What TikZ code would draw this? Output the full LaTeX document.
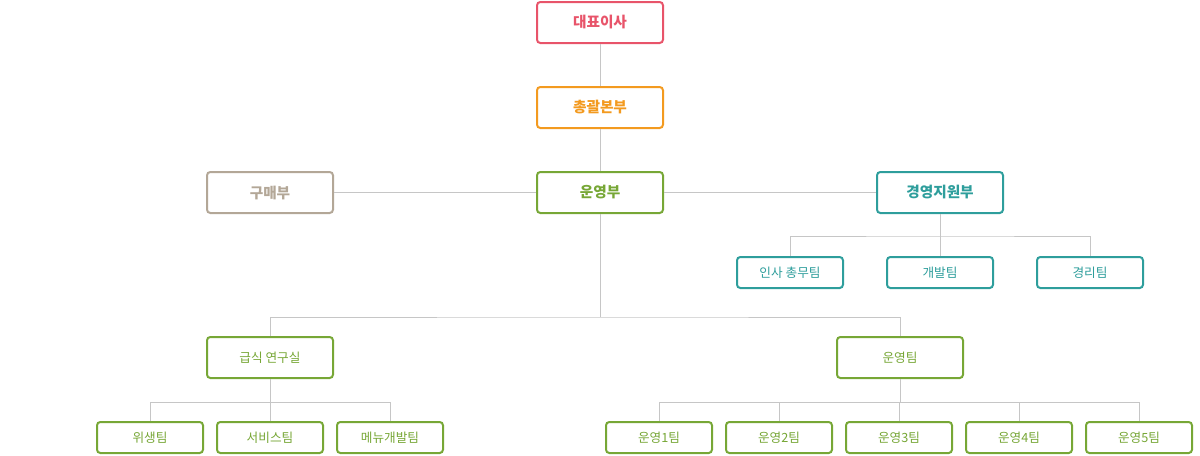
\documentclass[tikz,border=0pt]{standalone}
\usepackage{fontspec}
\setmainfont{Noto Sans CJK KR}
\definecolor{ceored}{HTML}{E8546A}
\definecolor{hqorange}{HTML}{F39A1F}
\definecolor{opsgreen}{HTML}{77A736}
\definecolor{mgmtteal}{HTML}{2E9E9C}
\definecolor{buygray}{HTML}{B3A797}
\definecolor{linegray}{HTML}{C6C6C6}

\begin{document}
\begin{tikzpicture}[x=0.75pt,y=-0.75pt,
	head/.style={draw=#1,text=#1,line width=1.5pt,rounded corners=2.5pt,fill=white,minimum width=94.5pt,minimum height=30.75pt,inner sep=0,font=\bfseries\fontsize{11}{13}\selectfont},
	team/.style={draw=#1,text=#1,line width=1.5pt,rounded corners=2.5pt,fill=white,minimum width=79.5pt,minimum height=23.25pt,inner sep=0,font=\fontsize{9.5}{11}\selectfont},
	link/.style={draw=linegray,line width=0.75pt}]
	\useasboundingbox (0,0) rectangle (1200,455);
	\node[head=ceored] (ceo) at (600,22.5) {대표이사};
	\node[head=hqorange] (hq) at (600,107.5) {총괄본부};
	\node[head=opsgreen] (ops) at (600,192.5) {운영부};
	\node[head=buygray] (buy) at (270,192.5) {구매부};
	\node[head=mgmtteal] (mgmt) at (940,192.5) {경영지원부};
	\node[team=mgmtteal] (hr) at (790,272.5) {인사 총무팀};
	\node[team=mgmtteal] (dev) at (940,272.5) {개발팀};
	\node[team=mgmtteal] (acct) at (1090,272.5) {경리팀};
	\node[head=opsgreen,font=\fontsize{9.5}{11}\selectfont] (lab) at (270,357.5) {급식 연구실};
	\node[head=opsgreen,font=\fontsize{9.5}{11}\selectfont] (opteam) at (900,357.5) {운영팀};
	\node[team=opsgreen] (hyg) at (150,437.5) {위생팀};
	\node[team=opsgreen] (svc) at (270,437.5) {서비스팀};
	\node[team=opsgreen] (menu) at (390,437.5) {메뉴개발팀};
	\node[team=opsgreen] (op1) at (659,437.5) {운영1팀};
	\node[team=opsgreen] (op2) at (779,437.5) {운영2팀};
	\node[team=opsgreen] (op3) at (899,437.5) {운영3팀};
	\node[team=opsgreen] (op4) at (1019,437.5) {운영4팀};
	\node[team=opsgreen] (op5) at (1139,437.5) {운영5팀};
	\coordinate (mgmtbus) at (0,236);
	\coordinate (opsbus) at (0,317);
	\coordinate (teambus) at (0,402);
	\draw[link] (ceo) -- (hq);
	\draw[link] (hq) -- (ops);
	\draw[link] (buy) -- (ops) -- (mgmt);
	\draw[link] (mgmt.south) -- (mgmt.south |- mgmtbus);
	\draw[link] (hr.north) |- (mgmt.south |- mgmtbus) -| (acct.north);
	\draw[link] (dev.north) -- (mgmt.south |- mgmtbus);
	\draw[link] (ops.south) -- (ops.south |- opsbus);
	\draw[link] (lab.north) |- (ops.south |- opsbus) -| (opteam.north);
	\draw[link] (lab.south) -- (lab.south |- teambus);
	\draw[link] (hyg.north) |- (lab.south |- teambus) -| (menu.north);
	\draw[link] (svc.north) -- (lab.south |- teambus);
	\draw[link] (opteam.south) -- (opteam.south |- teambus);
	\draw[link] (op1.north) |- (opteam.south |- teambus) -| (op5.north);
	\foreach \t in {op2,op3,op4}
		\draw[link] (\t.north) -- (\t.north |- teambus);
\end{tikzpicture}
\end{document}
